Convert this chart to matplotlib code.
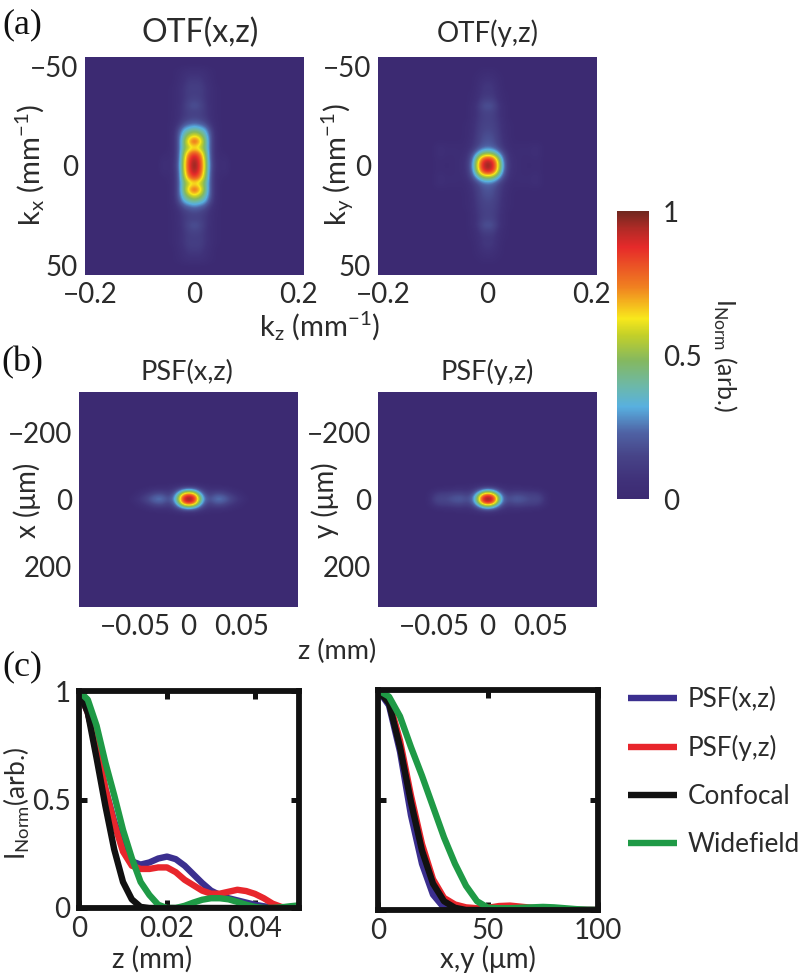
import numpy as np
import matplotlib
matplotlib.use("Agg")
import matplotlib.pyplot as plt
from matplotlib.colors import LinearSegmentedColormap

plt.rcParams['font.family'] = ['Lato', 'DejaVu Sans']
plt.rcParams['mathtext.fontset'] = 'custom'
plt.rcParams['mathtext.rm'] = 'Lato'
plt.rcParams['mathtext.default'] = 'rm'
TXT = '#2b2b2b'

# ---- colour scale
cmap_pos = [0, .07, .15, .23, .32, .39, .48, .57, .627, .737, .875, .94, 1]
cmap_col = ['#3c2a72', '#40327a', '#474488', '#4f62a4', '#58b0e0', '#6cb8aa', '#84b860',
            '#c4d028', '#f8e81c', '#f08020', '#e62a2a', '#b02a26', '#70281f']

# ---- heat maps: one quadrant of each map (rows = lateral offset, columns = z offset)
otf_xz_kz = np.array([0, .01, .02, .03, .04, .05, .06, .07])
otf_xz_kx = np.arange(0, 54, 3)
otf_xz = np.array([
    [1.0, .88, .58, .24, .07, .03, .05, .0],
    [.97, .85, .57, .22, .06, .03, .04, .0],
    [.86, .76, .52, .22, .05, .02, .01, .0],
    [.58, .54, .44, .22, .05, .01, .0, .0],
    [.85, .72, .48, .22, .05, .01, .0, .0],
    [.62, .55, .40, .22, .05, .01, .0, .0],
    [.42, .38, .32, .18, .04, .01, .0, .0],
    [.24, .22, .18, .09, .03, .01, .0, .0],
    [.15, .14, .11, .06, .02, .01, .0, .0],
    [.14, .14, .10, .06, .02, .01, .0, .0],
    [.19, .17, .11, .05, .02, .01, .0, .0],
    [.15, .14, .09, .05, .02, .01, .0, .0],
    [.12, .12, .09, .05, .02, .01, .0, .0],
    [.13, .13, .09, .05, .02, .01, .0, .0],
    [.11, .11, .07, .04, .01, .0, .0, .0],
    [.08, .08, .06, .03, .01, .0, .0, .0],
    [.05, .05, .04, .02, .01, .0, .0, .0],
    [.0, .0, .0, .0, .0, .0, .0, .0]])

otf_yz_kz = np.arange(0, .12, .01)
otf_yz_kx = np.arange(0, 54, 3)
otf_yz = np.array([
    [1.0, .92, .62, .28, .10, .04, .03, .02, .01, .02, .02, .0],
    [.93, .85, .55, .25, .09, .04, .03, .02, .02, .03, .02, .0],
    [.50, .46, .32, .17, .07, .03, .03, .03, .03, .05, .03, .0],
    [.24, .22, .16, .09, .04, .02, .03, .03, .03, .05, .03, .0],
    [.20, .18, .13, .07, .03, .01, .01, .01, .01, .01, .01, .0],
    [.18, .17, .12, .06, .02, .01, .0, .0, .0, .0, .0, .0],
    [.16, .15, .11, .05, .02, .01, .0, .0, .0, .0, .0, .0],
    [.15, .14, .10, .05, .02, .01, .0, .0, .0, .0, .0, .0],
    [.14, .13, .09, .04, .01, .0, .0, .0, .0, .0, .0, .0],
    [.15, .14, .08, .04, .01, .0, .0, .0, .0, .0, .0, .0],
    [.19, .18, .10, .04, .01, .0, .0, .0, .0, .0, .0, .0],
    [.14, .13, .06, .02, .01, .0, .0, .0, .0, .0, .0, .0],
    [.09, .09, .05, .02, .01, .0, .0, .0, .0, .0, .0, .0],
    [.10, .09, .04, .01, .0, .0, .0, .0, .0, .0, .0, .0],
    [.08, .07, .03, .01, .0, .0, .0, .0, .0, .0, .0, .0],
    [.05, .04, .02, .01, .0, .0, .0, .0, .0, .0, .0, .0],
    [.02, .02, .01, .0, .0, .0, .0, .0, .0, .0, .0, .0],
    [.0, .0, .0, .0, .0, .0, .0, .0, .0, .0, .0, .0]])

psf_z = np.arange(0, .065, .005)
psf_x = np.arange(0, 63, 9)
psf_xz = np.array([
    [1.0, .90, .52, .24, .18, .25, .26, .21, .15, .10, .06, .02, .0],
    [.92, .82, .46, .21, .15, .21, .22, .18, .13, .08, .04, .01, .0],
    [.65, .56, .33, .16, .11, .15, .15, .12, .08, .05, .02, .0, .0],
    [.35, .30, .19, .10, .07, .08, .08, .07, .04, .02, .01, .0, .0],
    [.13, .12, .08, .05, .03, .03, .03, .02, .01, .0, .0, .0, .0],
    [.03, .03, .02, .01, .01, .0, .0, .0, .0, .0, .0, .0, .0],
    [.0, .0, .0, .0, .0, .0, .0, .0, .0, .0, .0, .0, .0]])
psf_yz = np.array([
    [1.0, .90, .50, .22, .17, .20, .20, .18, .16, .16, .14, .05, .0],
    [.92, .80, .44, .20, .15, .18, .18, .16, .14, .14, .12, .04, .0],
    [.62, .52, .30, .15, .11, .13, .13, .12, .11, .11, .08, .03, .0],
    [.33, .27, .17, .09, .06, .07, .07, .06, .05, .05, .03, .01, .0],
    [.12, .11, .07, .04, .03, .03, .03, .02, .02, .01, .01, .0, .0],
    [.03, .03, .02, .01, .01, .0, .0, .0, .0, .0, .0, .0, .0],
    [.0, .0, .0, .0, .0, .0, .0, .0, .0, .0, .0, .0, .0]])

# ---- line profiles
z_mm = np.arange(0, .051, .002)
z_psf_xz = [1, .90, .74, .55, .40, .28, .215, .20, .21, .228, .237, .225, .195, .155, .115, .08, .06, .045, .035, .025, .015, .008, .003, 0, 0, 0]
z_psf_yz = [1, .90, .74, .55, .39, .26, .195, .18, .18, .187, .187, .165, .13, .105, .08, .066, .066, .075, .084, .078, .065, .045, .02, .005, 0, 0]
z_conf = [1, .90, .69, .47, .27, .12, .04, .005, 0, 0, 0, 0, 0, 0, 0, 0, 0, 0, 0, 0, 0, 0, 0, 0, 0, 0]
z_wide = [1, .96, .84, .67, .52, .36, .23, .12, .06, .015, 0, 0, .01, .025, .038, .045, .045, .04, .028, .015, .005, 0, 0, .003, .008, .012]

xy_um = np.arange(0, 105, 5)
xy_psf_xz = [1, .93, .72, .43, .21, .07, .01, 0, 0, 0, 0, 0, 0, 0, 0, 0, 0, 0, 0, 0, 0]
xy_psf_yz = [1, .95, .77, .52, .30, .14, .055, .025, .012, .008, .01, .018, .02, .015, .01, .006, .004, .002, .001, 0, 0]
xy_conf = [1, .94, .74, .49, .27, .12, .04, .01, 0, 0, 0, 0, 0, 0, 0, 0, 0, 0, 0, 0, 0]
xy_wide = [1, .97, .88, .74, .61, .47, .33, .21, .11, .04, .01, .008, .008, .01, .012, .014, .012, .008, .004, .001, 0]

series_names = ['PSF(x,z)', 'PSF(y,z)', 'Confocal', 'Widefield']
series_cols = ['#3b2f8f', '#e8262c', '#111111', '#1f9a46']
otf_xt, otf_xl = [-.2, 0, .2], ['\u22120.2', '0', '0.2']
otf_yt, otf_yl = [-50, 0, 50], ['\u221250', '0', '50']
psf_xt, psf_xl = [-.05, 0, .05], ['\u22120.05', '0', '0.05']
psf_yt, psf_yl = [-200, 0, 200], ['\u2212200', '0', '200']

W, H = 800, 976
FS = 20
fig = plt.figure(figsize=(W / 100, H / 100), dpi=100)


def box(l, t, r, b):
    return fig.add_axes([l / W, 1 - b / H, (r - l) / W, (b - t) / H])


def txt(x, y, s, **k):
    k.setdefault('fontsize', FS)
    k.setdefault('color', TXT)
    fig.text(x / W, 1 - y / H, s, ha='center', va='center', **k)


cmap = LinearSegmentedColormap.from_list('cb', list(zip(cmap_pos, cmap_col)), N=512)


def heat(pos, quad, cols, rows, xlim, ylim, xt, xl, yt, yl, center=0.0):
    ax = box(*pos)
    ax.set_facecolor(cmap(0.0))
    full = np.hstack([quad[:, :0:-1], quad])
    full = np.vstack([full[:0:-1], full])
    dx, dy = cols[1] - cols[0], rows[1] - rows[0]
    ext = [center - cols[-1] - dx / 2, center + cols[-1] + dx / 2, rows[-1] + dy / 2, -rows[-1] - dy / 2]
    im = ax.imshow(full, cmap=cmap, vmin=0, vmax=1, extent=ext, aspect='auto', interpolation='bicubic')
    ax.set_xlim(*xlim)
    ax.set_ylim(ylim[1], ylim[0])
    ax.set_xticks(xt, xl)
    ax.set_yticks(yt, yl)
    ax.tick_params(length=0, labelsize=FS, colors=TXT, pad=5)
    for s in ax.spines.values():
        s.set_visible(False)
    return im


im = heat((85, 57, 304, 275), otf_xz, otf_xz_kz, otf_xz_kx, (-.21, .21), (-55, 55), otf_xt, otf_xl, otf_yt, otf_yl)
heat((378, 57, 597, 275), otf_yz, otf_yz_kz, otf_yz_kx, (-.21, .21), (-55, 55), otf_xt, otf_xl, otf_yt, otf_yl)
heat((79, 392, 298, 607), psf_xz, psf_z, psf_x, (-.104, .104), (-320, 320), psf_xt, psf_xl, psf_yt, psf_yl)
heat((378, 392, 597, 607), psf_yz, psf_z, psf_x, (-.104, .104), (-320, 320), psf_xt, psf_xl, psf_yt, psf_yl)

cax = box(617, 211, 649, 499)
cb = fig.colorbar(im, cax=cax, ticks=[0, .5, 1])
cb.ax.set_yticklabels(['0', '0.5', '1'])
cb.outline.set_visible(False)
cb.ax.tick_params(length=0, labelsize=FS, colors=TXT, pad=10)


def profile(pos, x, ys, xlim, xt, xl, yt, yl):
    ax = box(*pos)
    lines = []
    for y, n, c in zip(ys, series_names, series_cols):
        lines += ax.plot(x, y, color=c, lw=4.6, label=n, solid_capstyle='butt', solid_joinstyle='round')
    ax.set_xlim(*xlim)
    ax.set_ylim(0, 1)
    ax.set_xticks(xt, xl)
    ax.set_yticks(yt, yl)
    ax.tick_params(direction='in', length=6, width=3.6, top=True, right=True, labelsize=FS, colors=TXT, pad=6, color='#111111')
    for s in ax.spines.values():
        s.set_linewidth(4.2)
        s.set_color('#111111')
    return ax, lines


a1, _ = profile((79, 691, 299, 908), z_mm, [z_psf_xz, z_psf_yz, z_conf, z_wide], (0, .05), [0, .02, .04], ['0', '0.02', '0.04'], [0, .5, 1], ['0', '0.5', '1'])
a2, lines = profile((378, 690, 598, 910), xy_um, [xy_psf_xz, xy_psf_yz, xy_conf, xy_wide], (0, 100), [0, 50, 100], ['0', '50', '100'], [0, .5, 1], [])
a2.tick_params(labelleft=False)

fig.legend(handles=lines, loc='upper left', bbox_to_anchor=(628 / W, 1 - 687 / H), frameon=False, fontsize=18.8,
           labelcolor=TXT, handlelength=1.88, handletextpad=.42, labelspacing=.88, borderpad=0, borderaxespad=0)

# ---- titles and axis labels
txt(200, 33, 'OTF(x,z)', fontsize=23)
txt(488, 33, 'OTF(y,z)', fontsize=20)
txt(187, 372, 'PSF(x,z)', fontsize=19.5)
txt(487, 372, 'PSF(y,z)', fontsize=19.5)
txt(320, 326, r'k$_{z}$ (mm$^{-1}$)', fontsize=21)
txt(337, 651, 'z (mm)', fontsize=19.5)
txt(30, 165, r'k$_{x}$ (mm$^{-1}$)', rotation=90, fontsize=21)
txt(338, 165, r'k$_{y}$ (mm$^{-1}$)', rotation=90, fontsize=21)
txt(27, 500, 'x (\u03bcm)', rotation=90)
txt(325, 500, 'y (\u03bcm)', rotation=90)
txt(17, 803, r'I$_{Norm}$(arb.)', rotation=90, fontsize=19)
txt(152, 959, 'z (mm)')
txt(488, 959, 'x,y (\u03bcm)')
txt(725, 355, r'I$_{Norm}$ (arb.)', rotation=270, fontsize=18)
for y, s in [(25, '(a)'), (363, '(b)'), (667, '(c)')]:
    txt(22, y, s, fontsize=26, family='Liberation Serif', color='#111111')

fig.savefig('out.png', dpi=100)
